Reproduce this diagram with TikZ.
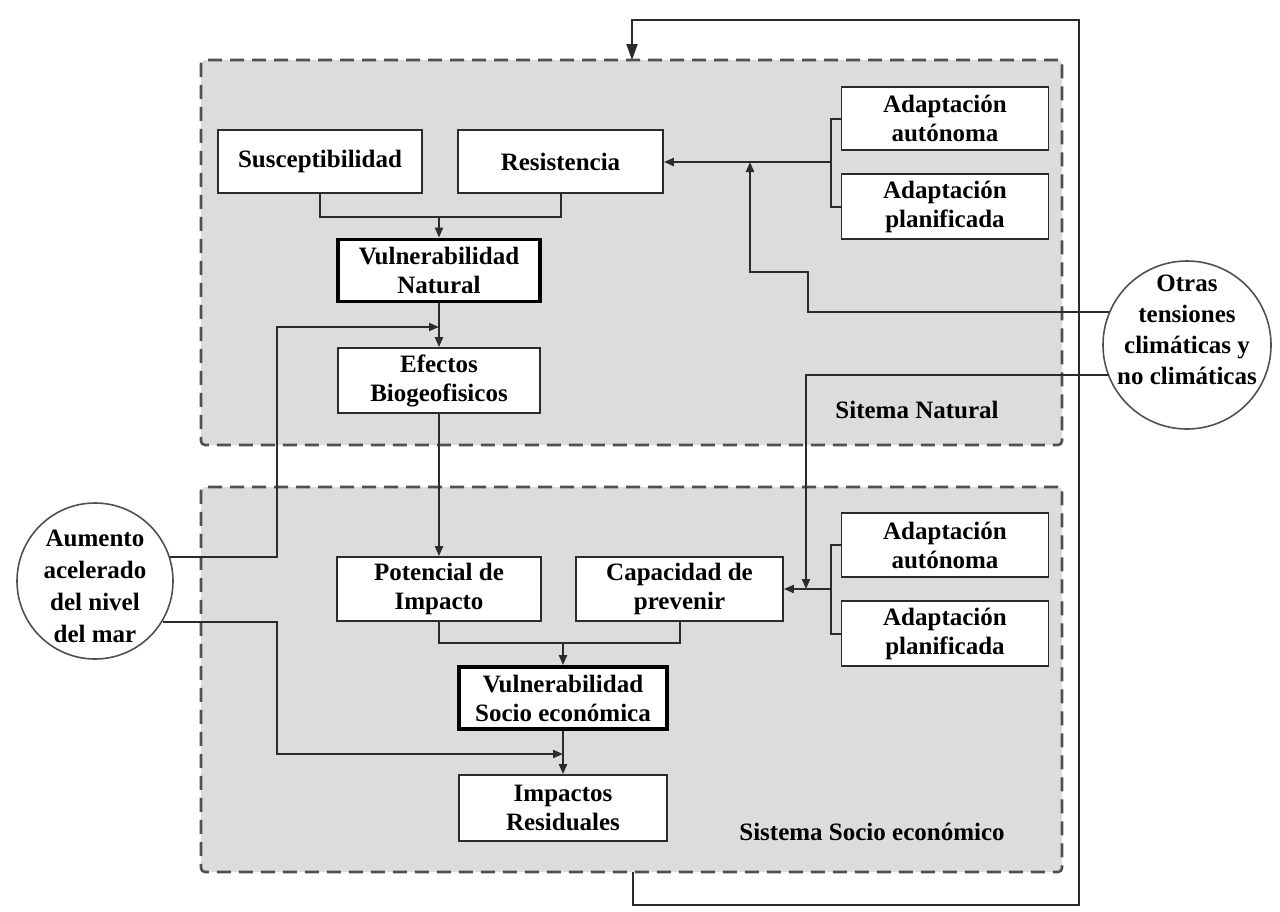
\documentclass[tikz,border=0pt]{standalone}
\usepackage{fontspec}
\setmainfont{Liberation Serif}
\usetikzlibrary{arrows.meta,shapes.geometric,calc}
\definecolor{linecol}{HTML}{2B2B2B}
\definecolor{dashcol}{HTML}{505050}
\definecolor{sysfill}{HTML}{DCDCDC}
\begin{document}
\begin{tikzpicture}[x=1pt,y=-1pt,
  txt/.style={font=\bfseries\fontsize{25}{29}\selectfont, align=center},
  box/.style={txt, draw=linecol, line width=1.8pt, fill=white, inner sep=0pt, minimum width=#1},
  box/.default=205pt,
  thickbox/.style={box=#1, line width=3.8pt, draw=black},
  thickbox/.default=202pt,
  sysbox/.style={draw=dashcol, fill=sysfill, line width=2.6pt, dash pattern=on 14pt off 8pt, rounded corners=4pt, minimum width=861pt, minimum height=385pt, inner sep=0pt},
  circ/.style={circle, draw=dashcol, line width=1.6pt, fill=white, inner sep=0pt, minimum size=#1},
  conn/.style={draw=linecol, line width=2pt},
  arr/.style={conn, -{Triangle[length=10pt,width=8pt]}},
  bigarr/.style={conn, -{Triangle[length=16pt,width=11pt]}}
]
\useasboundingbox[fill=white] (0,0) rectangle (1280,911);

% system boxes
\node[sysbox] (nat) at (631.5,252.5) {};
\node[sysbox] (soc) at (631.5,679.5) {};
\node[txt, anchor=center] (natlbl) at (917,410) {Sitema Natural};
\node[txt, anchor=center] (soclbl) at (872,832) {Sistema Socio económico};

% natural system nodes
\node[box=204pt, minimum height=63pt] (susc) at (320,161.5) {Susceptibilidad};
\node[box=205pt, minimum height=63pt] (resis) at (560.5,161.5) {Resistencia};
\node[thickbox=202pt, minimum height=62pt] (vnat) at (439,270.5) {Vulnerabilidad\\Natural};
\node[box=202pt, minimum height=65pt] (efec) at (439,380.5) {Efectos\\Biogeofisicos};
\node[box=207pt, minimum height=63pt] (aa1) at (945,118.5) {Adaptación\\autónoma};
\node[box=207pt, minimum height=65pt] (ap1) at (945,206.5) {Adaptación\\planificada};

% socio-economic nodes
\node[box=204pt, minimum height=64pt] (pot) at (439,589) {Potencial de\\Impacto};
\node[box=207pt, minimum height=64pt] (cap) at (679.5,589) {Capacidad de\\prevenir};
\node[box=207pt, minimum height=64pt] (aa2) at (945,545) {Adaptación\\autónoma};
\node[box=207pt, minimum height=65pt] (ap2) at (945,633.5) {Adaptación\\planificada};
\node[thickbox=208pt, minimum height=62pt] (vsoc) at (563,698) {Vulnerabilidad\\Socio económica};
\node[box=208pt, minimum height=66pt] (imp) at (563,808) {Impactos\\Residuales};

% external drivers
\node[circ=168pt] (otras) at (1187,345) {};
\node[txt, font=\bfseries\fontsize{25}{31}\selectfont] (otrastxt) at (1187,330) {Otras\\tensiones\\climáticas y\\no climáticas};
\node[circ=156pt] (aum) at (95,581) {};
\node[txt, font=\bfseries\fontsize{25}{32}\selectfont] (aumtxt) at (95,586) {Aumento\\acelerado\\del nivel\\del mar};

% junction coordinates
\coordinate (j1) at (439,217);
\coordinate (b1) at (831,162);
\coordinate (b2) at (831,589);
\coordinate (o1) at (808,272);
\coordinate (o2) at (750,162);
\coordinate (o3) at (806,589);
\coordinate (m1) at (439,327);
\coordinate (a1) at (277,327);
\coordinate (j2) at (563,643);
\coordinate (m2) at (563,754);
\coordinate (a2) at (277,754);
\coordinate (f0) at (633,872);
\coordinate (f1) at (1079,905);
\coordinate (f2) at (632,20);
\coordinate (f3) at (632,60);

% natural system connectors
\draw[conn] (susc.south) |- (j1) -| (resis.south);
\draw[arr] (j1) -- (vnat.north);
\draw[conn] (aa1.west) -| (b1) |- (ap1.west);
\draw[arr] (b1) -- (resis.east |- b1);
\draw[arr] (otras.157) -| (o1) -| (o2);
\draw[arr] (vnat.south) -- (efec.north);
\draw[arr] (aum.18) -| (a1) -- (m1);
\draw[arr] (efec.south) -- (pot.north);

% socio-economic connectors
\draw[conn] (aa2.west) -| (b2) |- (ap2.west);
\draw[arr] (b2) -- (cap.east);
\draw[arr] (otras.201) -| (o3);
\draw[conn] (pot.south) |- (j2) -| (cap.south);
\draw[arr] (j2) -- (vsoc.north);
\draw[arr] (vsoc.south) -- (imp.north);
\draw[arr] (aum.-31) -| (a2) -- (m2);

% feedback loop
\draw[bigarr] (f0) |- (f1) |- (f2) -- (f3);
\end{tikzpicture}
\end{document}
